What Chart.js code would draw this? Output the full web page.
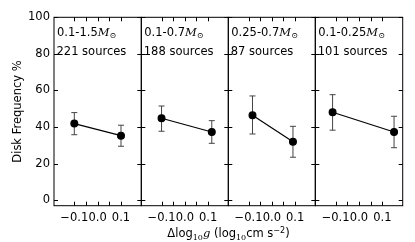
<!DOCTYPE html>
<html>
<head>
<meta charset="utf-8">
<script src="https://cdn.jsdelivr.net/npm/chart.js@4/dist/chart.umd.min.js"></script>
<style>
body { margin: 0; background: #fff; }
#wrap { position: relative; width: 415px; height: 242px; font-family: 'DejaVu Sans', sans-serif; font-size: 11.5px; color: #000; }
#wrap canvas { position: absolute; left: 0; top: 0; }
.note { position: absolute; white-space: nowrap; line-height: 1; }
.m { font-family: 'DejaVu Serif', serif; font-style: italic; }
.m sub { font-size: 8px; font-style: normal; vertical-align: -2px; }
#xtitle { position: absolute; left: 0; width: 457px; top: 227px; text-align: center; white-space: nowrap; line-height: 1; }
#xtitle sub { font-family: 'DejaVu Serif', serif; font-size: 8px; vertical-align: -3px; }
#xtitle sup { font-size: 8px; vertical-align: 4px; }
</style>
</head>
<body>
<div id="wrap">
  <canvas id="c0" width="415" height="242"></canvas>
  <canvas id="c1" width="415" height="242"></canvas>
  <canvas id="c2" width="415" height="242"></canvas>
  <canvas id="c3" width="415" height="242"></canvas>
  <div id="xtitle">&Delta;log<sub>10</sub><span class="m">g</span> (log<sub>10</sub>cm s<sup>&minus;2</sup>)</div>
</div>
<script>
// mass bins and sample sizes
const massBins = ['0.1-1.5', '0.1-0.7', '0.25-0.7', '0.1-0.25'];
const sourceCounts = [221, 188, 87, 101];

// delta log g position of each point, per panel
const xPos = [[-0.1, 0.1], [-0.1, 0.116], [-0.083, 0.091], [-0.113, 0.15]];
// disk frequency %
const freq = [[41.9, 35.3], [44.8, 37.3], [46.4, 31.9], [48.1, 37.3]];
const errLow = [[35.8, 29.5], [37.7, 31.1], [36.2, 23.5], [38.3, 28.7]];
const errHigh = [[47.9, 41.0], [51.5, 43.5], [57.0, 40.4], [57.7, 45.9]];

const yTicks = [0, 20, 40, 60, 80, 100];
const xTicks = [-0.1, -0.05, 0, 0.05, 0.1];
const xTickText = ['\u22120.1', '', '0.0', '', '0.1'];

// panel edges in px
const edges = [54, 141.3, 228.3, 315.3, 402.7];
const W = 415, H = 242, areaTop = 17.3, areaBottom = 205.7;

const frameTicks = {
  id: 'frameTicks',
  afterDraw(chart) {
    const { ctx, chartArea: a, scales: { x, y } } = chart;
    ctx.save();
    ctx.strokeStyle = '#000';
    ctx.lineWidth = 1;
    ctx.beginPath();
    yTicks.forEach(v => {
      const py = Math.round(y.getPixelForValue(v)) + 0.5;
      ctx.moveTo(a.left, py); ctx.lineTo(a.left + 4, py);
      ctx.moveTo(a.right, py); ctx.lineTo(a.right - 4, py);
    });
    xTicks.forEach(v => {
      const px = Math.round(x.getPixelForValue(v)) + 0.5;
      ctx.moveTo(px, a.bottom); ctx.lineTo(px, a.bottom - 4);
      ctx.moveTo(px, a.top); ctx.lineTo(px, a.top + 4);
    });
    ctx.stroke();
    ctx.strokeRect(a.left, a.top, a.right - a.left, a.bottom - a.top);
    ctx.restore();
  }
};

massBins.forEach((bin, i) => {
  const first = i === 0;
  const datasets = [{
    data: xPos[i].map((x, k) => ({ x: x, y: freq[i][k] })),
    borderColor: '#000',
    borderWidth: 1.2,
    pointRadius: 3.4,
    pointBackgroundColor: '#000',
    pointBorderColor: '#000',
    order: 0
  }];
  xPos[i].forEach((x, k) => {
    datasets.push({
      data: [{ x: x, y: errLow[i][k] }, { x: x, y: errHigh[i][k] }],
      borderColor: '#444',
      borderWidth: 1,
      pointStyle: 'line',
      pointRadius: 3,
      pointBorderColor: '#444',
      pointBorderWidth: 1,
      order: 1
    });
  });

  new Chart(document.getElementById('c' + i), {
    type: 'line',
    data: { datasets: datasets },
    plugins: [frameTicks],
    options: {
      responsive: false,
      animation: false,
      events: [],
      layout: {
        padding: { left: first ? 0 : edges[i], right: W - edges[i + 1], top: areaTop, bottom: 0 }
      },
      plugins: { legend: { display: false }, tooltip: { enabled: false } },
      scales: {
        x: {
          type: 'linear',
          min: -0.187,
          max: 0.187,
          afterFit: s => { s.height = H - areaBottom; },
          afterBuildTicks: s => { s.ticks = xTicks.map(v => ({ value: v })); },
          grid: { display: false, drawTicks: false },
          border: { display: false },
          ticks: {
            autoSkip: false,
            maxRotation: 0,
            padding: 5,
            color: '#000',
            font: { family: 'DejaVu Sans', size: 11.5 },
            callback: v => xTickText[xTicks.findIndex(t => Math.abs(t - v) < 1e-9)] || ''
          }
        },
        y: {
          display: first,
          min: -3,
          max: 100,
          afterFit: s => { s.width = first ? edges[0] : 0; },
          afterBuildTicks: s => { s.ticks = yTicks.map(v => ({ value: v })); },
          grid: { display: false, drawTicks: false },
          border: { display: false },
          ticks: { padding: 4, color: '#000', font: { family: 'DejaVu Sans', size: 11.5 } },
          title: {
            display: true,
            text: 'Disk Frequency %',
            color: '#000',
            padding: { top: 11, bottom: 0 },
            font: { family: 'DejaVu Sans', size: 11.5 }
          }
        }
      }
    }
  });

  const n1 = document.createElement('div');
  n1.className = 'note';
  n1.style.left = (edges[i] + 3) + 'px';
  n1.style.top = '27px';
  n1.innerHTML = bin + '<span class="m">M<sub>\u2299</sub></span>';
  document.getElementById('wrap').appendChild(n1);

  const n2 = document.createElement('div');
  n2.className = 'note';
  n2.style.left = (edges[i] + 2.5) + 'px';
  n2.style.top = '46px';
  n2.textContent = sourceCounts[i] + ' sources';
  document.getElementById('wrap').appendChild(n2);
});
</script>
</body>
</html>
